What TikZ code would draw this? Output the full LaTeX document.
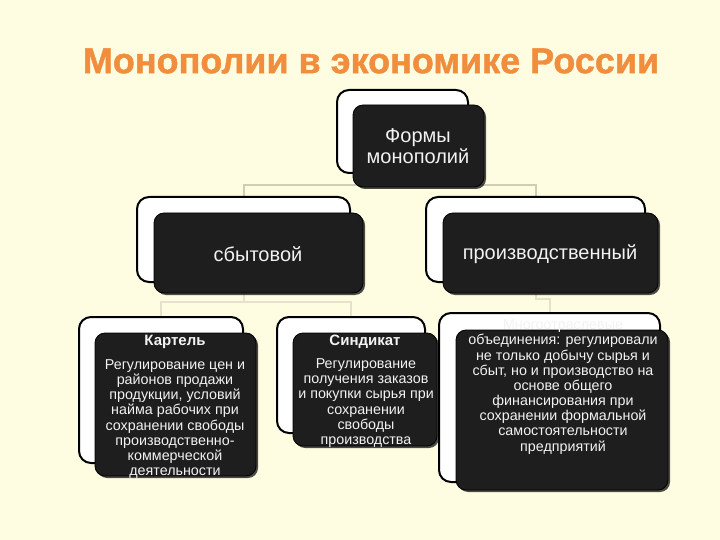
\documentclass[tikz,border=0pt]{standalone}
\usepackage{fontspec}
\setmainfont{Liberation Sans}
\newfontfamily\titlefont[FakeBold=1.2]{Liberation Sans}
\usetikzlibrary{shadows,calc}
\definecolor{bgc}{RGB}{255,253,225}
\definecolor{darkbox}{RGB}{30,30,30}
\definecolor{connc}{RGB}{208,205,182}
\definecolor{connl}{RGB}{228,226,205}
\definecolor{titlec}{RGB}{240,142,62}
\definecolor{txtc}{RGB}{242,242,242}
\pgfdeclarelayer{bg}
\pgfsetlayers{bg,main}
\begin{document}
\begin{tikzpicture}[x=1pt,y=-1pt,
  backbox/.style={draw=black, line width=2pt, fill=white, rounded corners=12pt, inner sep=0pt},
  frontbox/.style={draw=black, line width=0.8pt, fill=darkbox, rounded corners=10pt, inner sep=0pt,
    drop shadow={shadow xshift=2pt, shadow yshift=-2pt, opacity=0.7, fill=black}},
  conn/.style={draw=connc, line width=2pt},
  connlight/.style={draw=connl, line width=2pt},
  bigtxt/.style={text=txtc, align=center, inner sep=0pt, font=\fontsize{20}{21}\selectfont},
  headtxt/.style={text=txtc, inner sep=0pt, font=\fontsize{15}{16}\selectfont\bfseries},
  smalltxt/.style={text=txtc, align=center, inner sep=0pt, font=\fontsize{14.3}{15.15}\selectfont},
  ]
\useasboundingbox (0,0) rectangle (720,540);
\begin{pgfonlayer}{bg}
  \fill[bgc] (0,0) rectangle (720,540);
\end{pgfonlayer}

\node[text=titlec, font=\titlefont\fontsize{36}{40}\selectfont\bfseries] (title) at (371,61) {Монополии в экономике России};

% level 1
\node[backbox, minimum width=131pt, minimum height=83pt] (formsB) at (402.5,131.5) {};
\node[frontbox, minimum width=131pt, minimum height=82pt] (formsF) at (418.5,146) {};
\node[bigtxt] (formsT) at (418,146) {Формы\\монополий};

% level 2
\node[backbox, minimum width=213pt, minimum height=85pt] (sbB) at (243.5,239.5) {};
\node[frontbox, minimum width=209pt, minimum height=80pt] (sbF) at (258.5,253) {};
\node[bigtxt] (sbT) at (258,254) {сбытовой};

\node[backbox, minimum width=219pt, minimum height=85pt] (prB) at (535.5,239.5) {};
\node[frontbox, minimum width=215pt, minimum height=80pt] (prF) at (550.5,253) {};
\node[bigtxt] (prT) at (550,254) {производственный};

% level 3
\node[backbox, minimum width=164pt, minimum height=146pt] (kartB) at (161,390) {};
\node[frontbox, minimum width=161pt, minimum height=143pt] (kartF) at (175.5,404.5) {};
\node[headtxt] (kartH) at (175,342) {Картель};
\node[smalltxt] (kartT) at (175,419) {Регулирование цен и\\районов продажи\\продукции, условий\\найма рабочих при\\сохранении свободы\\производственно-\\коммерческой\\деятельности};

\node[backbox, minimum width=148pt, minimum height=116pt] (syndB) at (351,375) {};
\node[frontbox, minimum width=144pt, minimum height=113pt] (syndF) at (365,389.5) {};
\node[headtxt] (syndH) at (365,342) {Синдикат};
\node[smalltxt] (syndT) at (366,403) {Регулирование\\получения заказов\\и покупки сырья при\\сохранении\\свободы\\производства};

\node[backbox, minimum width=221pt, minimum height=169pt] (concB) at (549.5,397.5) {};
\node[frontbox, minimum width=212pt, minimum height=160pt] (concF) at (562,410) {};
\node[smalltxt] (concT) at (563,387) {Многоотраслевые\\объединения: регулировали\\не только добычу сырья и\\сбыт, но и производство на\\основе общего\\финансирования  при\\сохранении формальной\\самостоятельности\\предприятий};

% connectors
\begin{pgfonlayer}{bg}
  \draw[conn] (formsB.center) |- ($(sbB.north)+(0,-11)$) -- (sbB.north);
  \draw[conn] (formsB.center) |- ($(prB.north)+(0,-11)$) -- (prB.north);
  \draw[connlight] (sbB.center) |- ($(kartB.north)+(0,-14)$) -- (kartB.north);
  \draw[connlight] (sbB.center) |- ($(syndB.north)+(0,-14)$) -- (syndB.north);
  \draw[connlight] (prB.center) |- ($(concB.north)+(0,-13)$) -- (concB.north);
\end{pgfonlayer}
\end{tikzpicture}
\end{document}
